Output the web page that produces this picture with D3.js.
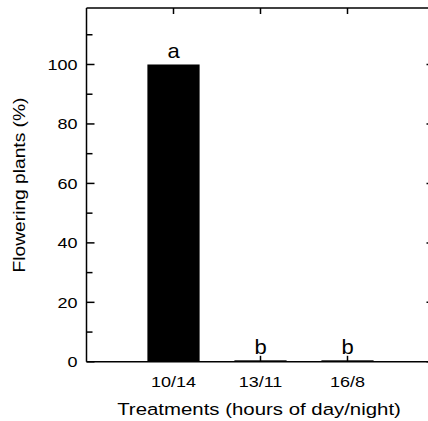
<!DOCTYPE html>
<html><head><meta charset="utf-8">
<script src="https://cdn.jsdelivr.net/npm/d3@7"></script>
<style>body{margin:0;background:#fff}svg{display:block}text{font-family:"Liberation Sans",Arial,sans-serif;fill:#000}</style>
</head><body><div id="chart"></div>
<script>
const categories = ["10/14", "13/11", "16/8"];
const values = [100, 0.5, 0.5];
const letters = ["a", "b", "b"];
const yTicks = [0, 20, 40, 60, 80, 100];
const yMinor = [10, 30, 50, 70, 90, 110];
const xTitle = "Treatments (hours of day/night)";
const yTitle = "Flowering plants (%)";

const W = 428, H = 421;
const svg = d3.select("#chart").append("svg").attr("width", W).attr("height", H);
const x = d3.scaleLinear().domain([0, 4]).range([86.5, 434.5]);
const y = d3.scaleLinear().domain([0, 119]).range([361.8, 8]);
const SX = 1.2;

function stext(tx, ty, str, size, anchor, rot, sx) {
  const g = svg.append("g").attr("transform", `translate(${tx},${ty}) rotate(${rot || 0}) scale(${sx || SX},1)`);
  g.append("text").attr("text-anchor", anchor || "middle").attr("font-size", size).text(str);
}

// bars
svg.selectAll("rect.bar").data(values).enter().append("rect")
  .attr("x", (d, i) => x(i + 1) - 0.3 * (x(1) - x(0)))
  .attr("width", 0.6 * (x(1) - x(0)))
  .attr("y", d => y(d)).attr("height", d => y(0) - y(d)).attr("fill", "#000");

const lw = 1.5;
const line = (x1, y1, x2, y2) => svg.append("line").attr("x1", x1).attr("y1", y1).attr("x2", x2).attr("y2", y2).attr("stroke", "#000").attr("stroke-width", lw);
line(x(0), y(119), x(0), y(0));
line(x(0), y(0), x(4), y(0));
line(x(0), y(119), x(4), y(119));
line(x(4), y(119), x(4), y(0));

yTicks.forEach(t => { line(x(0), y(t), x(0) + 8, y(t)); line(x(4), y(t), x(4) - 8, y(t)); stext(x(0) - 9, y(t) + 5.5, String(t), 15, "end"); });
yMinor.forEach(t => { line(x(0), y(t), x(0) + 6, y(t)); line(x(4), y(t), x(4) - 6, y(t)); });

categories.forEach((c, i) => {
  const cx = x(i + 1);
  line(cx, y(119), cx, y(119) + 6);
  line(cx, y(0), cx, y(0) - 6);
  stext(cx, 387, c, 15, "middle");
  stext(cx, y(values[i]) - 6, letters[i], 20, "middle", 0, 1.1);
});

stext(259, 415, xTitle, 17, "middle");
stext(25, 185, yTitle, 16, "middle", -90);
</script></body></html>
